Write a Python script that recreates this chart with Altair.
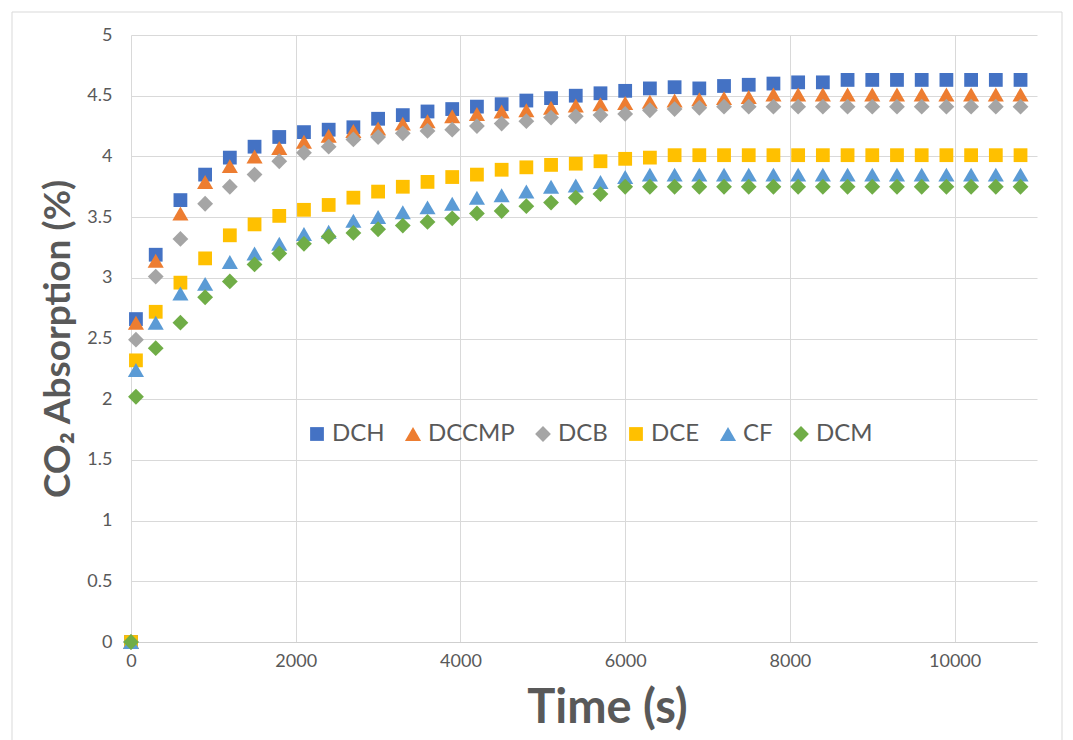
import altair as alt
import pandas as pd

# Sampling times (s)
time_s = [0, 60, 300, 600, 900, 1200, 1500, 1800, 2100, 2400, 2700, 3000,
          3300, 3600, 3900, 4200, 4500, 4800, 5100, 5400, 5700, 6000, 6300,
          6600, 6900, 7200, 7500, 7800, 8100, 8400, 8700, 9000, 9300, 9600,
          9900, 10200, 10500, 10800]

# CO2 absorption (%) for each solvent
dch = [0, 2.66, 3.19, 3.64, 3.85, 3.99, 4.08, 4.16, 4.20, 4.22, 4.24, 4.31,
       4.34, 4.37, 4.39, 4.41, 4.43, 4.46, 4.48, 4.50, 4.52, 4.54, 4.56,
       4.57, 4.56, 4.58, 4.59, 4.60, 4.61, 4.61, 4.63, 4.63, 4.63, 4.63,
       4.63, 4.63, 4.63, 4.63]
dccmp = [0, 2.63, 3.14, 3.53, 3.79, 3.92, 4.00, 4.07, 4.12, 4.17, 4.21, 4.23,
         4.27, 4.29, 4.33, 4.35, 4.37, 4.38, 4.40, 4.42, 4.43, 4.44, 4.45,
         4.46, 4.47, 4.48, 4.49, 4.51, 4.51, 4.51, 4.51, 4.51, 4.51, 4.51,
         4.51, 4.51, 4.51, 4.51]
dcb = [0, 2.49, 3.01, 3.32, 3.61, 3.75, 3.85, 3.96, 4.03, 4.08, 4.14, 4.16,
       4.19, 4.21, 4.22, 4.25, 4.27, 4.29, 4.32, 4.33, 4.34, 4.35, 4.38,
       4.39, 4.40, 4.41, 4.41, 4.41, 4.41, 4.41, 4.41, 4.41, 4.41, 4.41,
       4.41, 4.41, 4.41, 4.41]
dce = [0, 2.32, 2.72, 2.96, 3.16, 3.35, 3.44, 3.51, 3.56, 3.60, 3.66, 3.71,
       3.75, 3.79, 3.83, 3.85, 3.89, 3.91, 3.93, 3.94, 3.96, 3.98, 3.99,
       4.01, 4.01, 4.01, 4.01, 4.01, 4.01, 4.01, 4.01, 4.01, 4.01, 4.01,
       4.01, 4.01, 4.01, 4.01]
cf = [0, 2.24, 2.63, 2.87, 2.95, 3.13, 3.20, 3.28, 3.36, 3.38, 3.47, 3.50,
      3.54, 3.58, 3.61, 3.66, 3.68, 3.71, 3.75, 3.76, 3.79, 3.83, 3.85,
      3.85, 3.85, 3.85, 3.85, 3.85, 3.85, 3.85, 3.85, 3.85, 3.85, 3.85,
      3.85, 3.85, 3.85, 3.85]
dcm = [0, 2.02, 2.42, 2.63, 2.84, 2.97, 3.11, 3.20, 3.28, 3.34, 3.37, 3.40,
       3.43, 3.46, 3.49, 3.53, 3.55, 3.59, 3.62, 3.66, 3.69, 3.75, 3.75,
       3.75, 3.75, 3.75, 3.75, 3.75, 3.75, 3.75, 3.75, 3.75, 3.75, 3.75,
       3.75, 3.75, 3.75, 3.75]

series_names = ["DCH", "DCCMP", "DCB", "DCE", "CF", "DCM"]
series_values = [dch, dccmp, dcb, dce, cf, dcm]
series_colors = ["#4472C4", "#ED7D31", "#A5A5A5", "#FFC000", "#5B9BD5", "#70AD47"]
series_shapes = ["square", "triangle-up", "diamond", "square", "triangle-up", "diamond"]
series_sizes = [190, 260, 250, 190, 260, 250]

x_ticks = [0, 2000, 4000, 6000, 8000, 10000]
y_ticks = [0, 0.5, 1, 1.5, 2, 2.5, 3, 3.5, 4, 4.5, 5]

rows = []
for name, vals in zip(series_names, series_values):
    for t, v in zip(time_s, vals):
        rows.append({"time": t, "absorption": v, "series": name})
df = pd.DataFrame(rows)

FONT = "Lato"
TEXT = "#595959"
GRID = "#d9d9d9"

legend = alt.Legend(
    title=None, orient="none", legendX=174, legendY=387,
    direction="horizontal", labelFont=FONT, labelFontSize=24,
    labelColor=TEXT, symbolSize=150, labelOffset=3, columnPadding=16,
    symbolStrokeWidth=0,
)

points = alt.Chart(df).mark_point(filled=True, opacity=1).encode(
    x=alt.X(
        "time:Q",
        scale=alt.Scale(domain=[0, 11000], nice=False, zero=False),
        axis=alt.Axis(
            values=x_ticks, format="d", title="Time (s)",
            titleFont=FONT, titleFontSize=47, titleFontWeight="bold",
            titleColor=TEXT, titleX=476, titleY=80,
            titleBaseline="alphabetic",
            labelFont=FONT, labelFontSize=18, labelColor=TEXT,
            labelPadding=10, labelFlush=False, tickSize=0,
            domainColor="#cfcfcf", gridColor=GRID,
        ),
    ),
    y=alt.Y(
        "absorption:Q",
        scale=alt.Scale(domain=[0, 5], nice=False),
        axis=alt.Axis(
            values=y_ticks, format="~g", title="CO₂ Absorption (%)",
            titleFont=FONT, titleFontSize=37, titleFontWeight="bold",
            titleColor=TEXT, titleAngle=270, titleX=-62,
            titleBaseline="alphabetic",
            labelFont=FONT, labelFontSize=18, labelColor=TEXT,
            labelPadding=19, labelFlush=False, tickSize=0, domain=False,
            gridColor=GRID,
        ),
    ),
    color=alt.Color(
        "series:N",
        scale=alt.Scale(domain=series_names, range=series_colors),
        legend=legend,
    ),
    shape=alt.Shape(
        "series:N",
        scale=alt.Scale(domain=series_names, range=series_shapes),
        legend=legend,
    ),
    size=alt.Size(
        "series:N",
        scale=alt.Scale(type="ordinal", domain=series_names, range=series_sizes),
        legend=None,
    ),
    order=alt.Order("idx:Q"),
).transform_window(idx="row_number()")

# Light frame around the whole chart
frame = alt.Chart(alt.Data(values=[{}])).mark_rect(
    fill="white", fillOpacity=0, stroke=GRID, strokeWidth=1
).encode(
    x=alt.value(-119), x2=alt.value(931),
    y=alt.value(-23), y2=alt.value(712),
)

chart = alt.layer(frame, points).properties(
    width=906, height=607,
    autosize=alt.AutoSizeParams(type="none"),
    padding={"left": 131, "top": 35, "right": 36, "bottom": 98},
    background="white",
).configure_view(stroke=None)

chart.save("out.html", embed_options={"renderer": "svg", "actions": False})
